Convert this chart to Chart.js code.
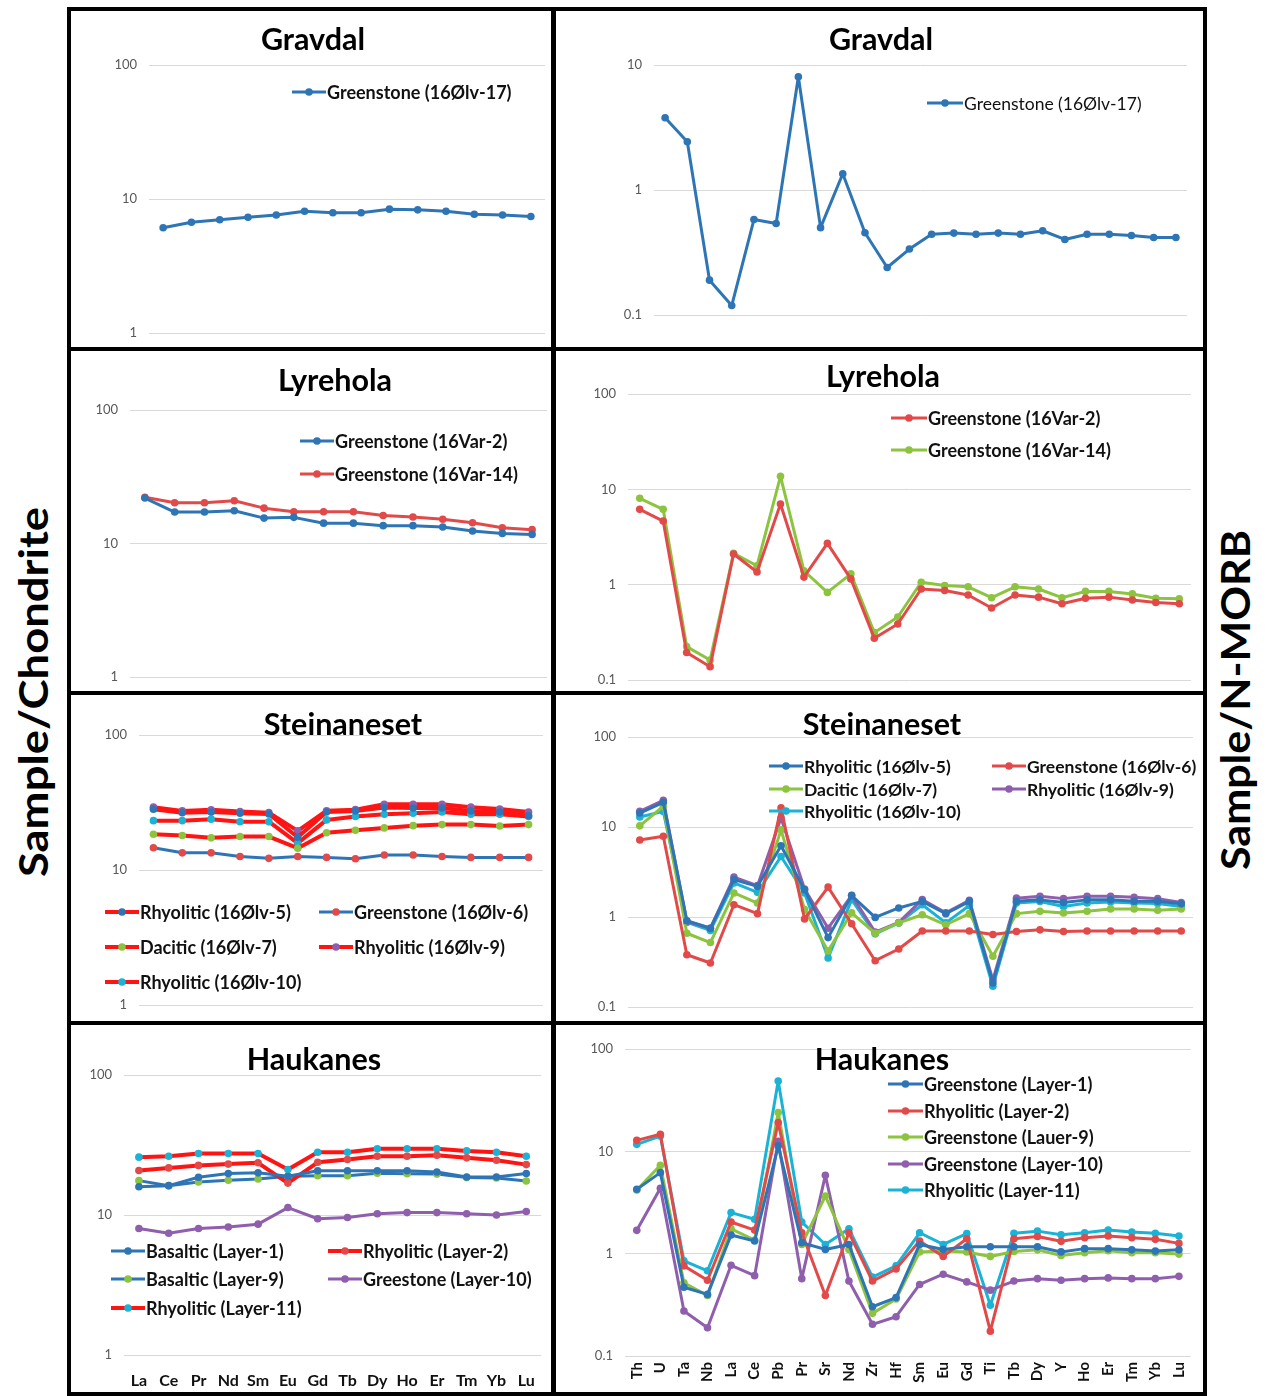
<!DOCTYPE html>
<html>
<head>
<meta charset="utf-8">
<title>REE and spider diagrams</title>
<script src="https://cdn.jsdelivr.net/npm/chart.js@4.4.1/dist/chart.umd.min.js"></script>
<style>
  html, body { margin: 0; padding: 0; background: #fff; }
  #page { position: relative; width: 1270px; height: 1396px; overflow: hidden; background: #fff; }
  .panel { position: absolute; }
  .panel canvas { display: block; }
  .rule { position: absolute; background: #000; }
  .side { position: absolute; font-family: Lato, "Open Sans", sans-serif; font-weight: 700; color: #000;
          white-space: nowrap; line-height: 1; }
</style>
</head>
<body>
<div id="page"></div>
<script>
// ---------- categories ----------
const REE = ['La','Ce','Pr','Nd','Sm','Eu','Gd','Tb','Dy','Ho','Er','Tm','Yb','Lu'];
const SPIDER = ['Th','U','Ta','Nb','La','Ce','Pb','Pr','Sr','Nd','Zr','Hf','Sm','Eu','Gd','Ti','Tb','Dy','Y','Ho','Er','Tm','Yb','Lu'];

// ---------- tick labels ----------
const CHONDRITE_TICKS = [1, 10, 100];
const MORB_TICKS_SHORT = [0.1, 1, 10];
const MORB_TICKS = [0.1, 1, 10, 100];

// ---------- titles / series names ----------
const TITLES = ['Gravdal', 'Lyrehola', 'Steinaneset', 'Haukanes'];
const SIDE_LEFT = 'Sample/Chondrite';
const SIDE_RIGHT = 'Sample/N-MORB';

// ---------- Gravdal ----------
const gravdalReeLabels = ['Greenstone (16Ølv-17)'];
const gravdalRee17 = [6.1, 6.7, 7.0, 7.3, 7.6, 8.1, 7.9, 7.9, 8.4, 8.3, 8.1, 7.7, 7.6, 7.4];
const gravdalSpiderLabels = ['Greenstone (16Ølv-17)'];
const gravdalSpider17 = [3.78, 2.43, 0.19, 0.119, 0.58, 0.54, 8.06, 0.50, 1.35, 0.455, 0.24, 0.337,
                         0.443, 0.452, 0.443, 0.452, 0.443, 0.472, 0.402, 0.443, 0.443, 0.432, 0.417, 0.417];

// ---------- Lyrehola ----------
const lyreholaLabels = ['Greenstone (16Var-2)', 'Greenstone (16Var-14)'];
const lyreholaRee2  = [21.9, 17.2, 17.2, 17.6, 15.5, 15.7, 14.2, 14.2, 13.6, 13.6, 13.3, 12.4, 11.9, 11.7];
const lyreholaRee14 = [22.2, 20.2, 20.2, 20.9, 18.4, 17.3, 17.3, 17.3, 16.2, 15.8, 15.2, 14.3, 13.1, 12.7];
const lyreholaSpider2  = [6.17, 4.65, 0.194, 0.138, 2.10, 1.36, 7.02, 1.20, 2.71, 1.15, 0.274, 0.387,
                          0.90, 0.87, 0.78, 0.57, 0.78, 0.74, 0.63, 0.72, 0.74, 0.69, 0.65, 0.63];
const lyreholaSpider14 = [8.05, 6.17, 0.224, 0.162, 2.13, 1.58, 13.7, 1.40, 0.83, 1.30, 0.314, 0.458,
                          1.06, 0.98, 0.95, 0.73, 0.95, 0.90, 0.73, 0.85, 0.85, 0.80, 0.72, 0.71];

// ---------- Steinaneset ----------
const steinLabels = ['Rhyolitic (16Ølv-5)', 'Greenstone (16Ølv-6)', 'Dacitic (16Ølv-7)',
                     'Rhyolitic (16Ølv-9)', 'Rhyolitic (16Ølv-10)'];
const steinRee5  = [28.2, 26.6, 26.9, 26.3, 26.0, 17.5, 26.9, 27.4, 29.0, 28.8, 28.8, 27.4, 26.9, 25.2];
const steinRee6  = [14.6, 13.4, 13.4, 12.6, 12.2, 12.6, 12.4, 12.1, 12.9, 12.9, 12.6, 12.4, 12.4, 12.4];
const steinRee7  = [18.4, 18.0, 17.3, 17.7, 17.7, 14.5, 18.9, 19.7, 20.5, 21.3, 21.7, 21.7, 21.2, 21.7];
const steinRee9  = [29.2, 27.4, 27.9, 27.1, 26.6, 19.5, 27.5, 28.0, 30.7, 30.7, 30.7, 29.2, 28.3, 26.9];
const steinRee10 = [23.2, 23.2, 23.8, 22.8, 22.8, 15.8, 23.5, 24.9, 25.9, 26.3, 26.9, 25.9, 25.9, 24.9];
const steinSpider5  = [14.3, 18.8, 0.91, 0.75, 2.60, 2.19, 6.2, 2.01, 0.59, 1.73, 0.99, 1.26,
                       1.49, 1.09, 1.49, 0.185, 1.50, 1.55, 1.45, 1.55, 1.55, 1.50, 1.50, 1.40];
const steinSpider6  = [7.17, 7.88, 0.381, 0.308, 1.37, 1.09, 16.3, 0.95, 2.15, 0.84, 0.327, 0.441,
                       0.70, 0.70, 0.70, 0.64, 0.69, 0.72, 0.69, 0.70, 0.70, 0.70, 0.70, 0.70];
const steinSpider7  = [10.3, 17.0, 0.66, 0.52, 1.85, 1.43, 9.3, 1.21, 0.42, 1.11, 0.66, 0.86,
                       1.06, 0.82, 1.09, 0.366, 1.09, 1.16, 1.11, 1.16, 1.23, 1.23, 1.19, 1.23];
const steinSpider9  = [14.9, 19.8, 0.89, 0.75, 2.78, 2.23, 12.6, 2.05, 0.75, 1.74, 0.68, 0.87,
                       1.56, 1.11, 1.53, 0.20, 1.62, 1.70, 1.60, 1.70, 1.70, 1.66, 1.60, 1.45];
const steinSpider10 = [12.9, 14.9, 0.87, 0.71, 2.39, 1.88, 4.7, 1.85, 0.35, 1.56, 0.65, 0.86,
                       1.37, 0.86, 1.34, 0.17, 1.43, 1.49, 1.31, 1.43, 1.47, 1.43, 1.41, 1.31];

// ---------- Haukanes ----------
const haukReeLabels = ['Basaltic (Layer-1)', 'Rhyolitic (Layer-2)', 'Basaltic (Layer-9)',
                       'Greestone (Layer-10)', 'Rhyolitic (Layer-11)'];
const haukRee1  = [15.9, 16.2, 18.6, 19.8, 20.0, 18.9, 20.7, 20.7, 20.7, 20.7, 20.3, 18.7, 18.7, 19.8];
const haukRee2  = [20.8, 21.7, 22.6, 23.1, 23.6, 16.9, 23.8, 24.9, 26.3, 26.3, 26.7, 25.6, 24.6, 22.9];
const haukRee9  = [17.6, 16.2, 17.2, 17.7, 18.1, 18.9, 19.1, 19.1, 19.9, 19.7, 19.6, 18.5, 18.4, 17.5];
const haukRee10 = [8.0, 7.4, 8.0, 8.2, 8.6, 11.3, 9.4, 9.6, 10.2, 10.4, 10.4, 10.2, 10.0, 10.6];
const haukRee11 = [25.9, 26.3, 27.5, 27.5, 27.5, 21.1, 28.1, 28.1, 29.7, 29.7, 29.7, 28.7, 28.1, 26.3];
const haukSpiderLabels = ['Greenstone (Layer-1)', 'Rhyolitic (Layer-2)', 'Greenstone (Lauer-9)',
                          'Greenstone (Layer-10)', 'Rhyolitic (Layer-11)'];
const haukSpider1  = [4.25, 6.19, 0.47, 0.40, 1.52, 1.33, 11.3, 1.28, 1.10, 1.23, 0.303, 0.372,
                      1.23, 1.10, 1.17, 1.17, 1.17, 1.17, 1.04, 1.12, 1.12, 1.09, 1.06, 1.09];
const haukSpider2  = [12.8, 14.7, 0.76, 0.55, 2.04, 1.70, 19.1, 1.60, 0.39, 1.60, 0.54, 0.71,
                      1.33, 0.94, 1.40, 0.175, 1.40, 1.47, 1.32, 1.43, 1.49, 1.43, 1.38, 1.26];
const haukSpider9  = [4.19, 7.3, 0.52, 0.39, 1.75, 1.36, 24.0, 1.23, 3.66, 1.10, 0.261, 0.36,
                      1.04, 1.06, 1.04, 0.94, 1.05, 1.09, 0.96, 1.02, 1.07, 1.02, 1.02, 0.99];
const haukSpider10 = [1.69, 4.35, 0.275, 0.189, 0.77, 0.61, 12.5, 0.57, 5.83, 0.54, 0.204, 0.242,
                      0.50, 0.63, 0.53, 0.44, 0.54, 0.57, 0.55, 0.57, 0.58, 0.57, 0.57, 0.60];
const haukSpider11 = [11.7, 14.1, 0.85, 0.68, 2.52, 2.17, 48.7, 2.04, 1.23, 1.75, 0.59, 0.76,
                      1.60, 1.23, 1.57, 0.313, 1.58, 1.66, 1.53, 1.60, 1.70, 1.63, 1.58, 1.49];

// ---------- styling ----------
const FONT = 'Lato, "Open Sans", sans-serif';
const BLUE = '#2e75b6', RED = '#e24a4a', GREEN = '#8cc43f', PURPLE = '#8f5fae', CYAN = '#1ab3d6';
const HOT_RED = '#ff1414';
const GRID = '#d9d9d9';

function ser(label, data, line, dot, width) {
  return { label, data, line, dot, width: width || 3 };
}

// Panel layout: inner box of each framed cell and the plotting rectangle inside it (page pixels).
const panels = [
  { box: [71, 11, 480, 336], area: [149, 65, 545, 333], labels: REE, ticks: CHONDRITE_TICKS,
    title: [TITLES[0], 313, 40],
    series: [ser(gravdalReeLabels[0], gravdalRee17, BLUE, BLUE)],
    legend: { size: 18, weight: 700, len: 34, items: [[0, 292, 92]] } },
  { box: [556, 11, 647, 336], area: [654, 65, 1187, 315], labels: SPIDER, ticks: MORB_TICKS_SHORT,
    title: [TITLES[0], 881, 40],
    series: [ser(gravdalSpiderLabels[0], gravdalSpider17, BLUE, BLUE)],
    legend: { size: 17.5, weight: 400, len: 36, items: [[0, 927, 103]] } },
  { box: [71, 351, 480, 340], area: [130, 410, 551, 677], labels: REE, ticks: CHONDRITE_TICKS,
    title: [TITLES[1], 335, 381],
    series: [ser(lyreholaLabels[0], lyreholaRee2, BLUE, BLUE), ser(lyreholaLabels[1], lyreholaRee14, RED, RED)],
    legend: { size: 18, weight: 700, len: 34, items: [[0, 300, 441], [1, 300, 474]] } },
  { box: [556, 351, 647, 340], area: [628, 394, 1191, 680], labels: SPIDER, ticks: MORB_TICKS,
    title: [TITLES[1], 883, 377],
    series: [ser(lyreholaLabels[0], lyreholaSpider2, RED, RED), ser(lyreholaLabels[1], lyreholaSpider14, GREEN, GREEN)],
    legend: { size: 18, weight: 700, len: 36, items: [[0, 891, 418], [1, 891, 450]] } },
  { box: [71, 695, 480, 326], area: [139, 735, 543, 1005], labels: REE, ticks: CHONDRITE_TICKS,
    title: [TITLES[2], 343, 725],
    series: [ser(steinLabels[0], steinRee5, HOT_RED, BLUE, 4), ser(steinLabels[1], steinRee6, BLUE, RED, 3),
             ser(steinLabels[2], steinRee7, HOT_RED, GREEN, 4), ser(steinLabels[3], steinRee9, HOT_RED, PURPLE, 4),
             ser(steinLabels[4], steinRee10, HOT_RED, CYAN, 4)],
    legend: { size: 18, weight: 700, len: 34,
              items: [[0, 105, 912], [1, 319, 912], [2, 105, 947], [3, 319, 947], [4, 105, 982]] } },
  { box: [556, 695, 647, 326], area: [628, 737, 1193, 1007], labels: SPIDER, ticks: MORB_TICKS,
    title: [TITLES[2], 882, 725],
    series: [ser(steinLabels[0], steinSpider5, BLUE, BLUE), ser(steinLabels[1], steinSpider6, RED, RED),
             ser(steinLabels[2], steinSpider7, GREEN, GREEN), ser(steinLabels[3], steinSpider9, PURPLE, PURPLE),
             ser(steinLabels[4], steinSpider10, CYAN, CYAN)],
    legend: { size: 17.5, weight: 700, len: 34,
              items: [[0, 769, 766], [1, 992, 766], [2, 769, 789], [3, 992, 789], [4, 769, 811]] } },
  { box: [71, 1025, 480, 367], area: [124, 1075, 545, 1355], labels: REE, ticks: CHONDRITE_TICKS,
    title: [TITLES[3], 314, 1060], xAxis: { rotate: false, size: 16, pad: 16 },
    series: [ser(haukReeLabels[0], haukRee1, BLUE, BLUE), ser(haukReeLabels[1], haukRee2, HOT_RED, RED, 4),
             ser(haukReeLabels[2], haukRee9, BLUE, GREEN), ser(haukReeLabels[3], haukRee10, PURPLE, PURPLE),
             ser(haukReeLabels[4], haukRee11, HOT_RED, CYAN, 4)],
    legend: { size: 18, weight: 700, len: 34,
              items: [[0, 111, 1251], [1, 328, 1251], [2, 111, 1279], [3, 328, 1279], [4, 111, 1308]] } },
  { box: [556, 1025, 647, 367], area: [625, 1049, 1199, 1356], labels: SPIDER, ticks: MORB_TICKS,
    title: [TITLES[3], 882, 1060], xAxis: { rotate: true, size: 15, pad: 6 },
    series: [ser(haukSpiderLabels[0], haukSpider1, BLUE, BLUE), ser(haukSpiderLabels[1], haukSpider2, RED, RED),
             ser(haukSpiderLabels[2], haukSpider9, GREEN, GREEN), ser(haukSpiderLabels[3], haukSpider10, PURPLE, PURPLE),
             ser(haukSpiderLabels[4], haukSpider11, CYAN, CYAN)],
    legend: { size: 18, weight: 700, len: 35,
              items: [[0, 888, 1084], [1, 888, 1111], [2, 888, 1137], [3, 888, 1164], [4, 888, 1190]] } }
];

// Draws each panel's heading and its in-plot legend on top of the series.
const panelDecor = {
  id: 'panelDecor',
  afterDraw(chart, args, opts) {
    const ctx = chart.ctx;
    const [ox, oy] = opts.origin;
    ctx.save();
    if (opts.title) {
      ctx.font = `700 30.5px ${FONT}`;
      ctx.fillStyle = '#000';
      ctx.textAlign = 'center';
      ctx.textBaseline = 'middle';
      ctx.fillText(opts.title[0], opts.title[1] - ox, opts.title[2] - oy);
    }
    const lg = opts.legend;
    if (lg) {
      lg.items.forEach(([idx, lx, ly]) => {
        const ds = chart.data.datasets[idx];
        const x = lx - ox, y = ly - oy;
        ctx.strokeStyle = ds.borderColor;
        ctx.lineWidth = ds.borderWidth;
        ctx.beginPath();
        ctx.moveTo(x, y);
        ctx.lineTo(x + lg.len, y);
        ctx.stroke();
        ctx.fillStyle = ds.pointBackgroundColor;
        ctx.beginPath();
        ctx.arc(x + lg.len / 2, y, 3.8, 0, Math.PI * 2);
        ctx.fill();
        ctx.font = `${lg.weight} ${lg.size}px ${FONT}`;
        ctx.fillStyle = '#111';
        ctx.textAlign = 'left';
        ctx.textBaseline = 'middle';
        ctx.fillText(ds.label, x + lg.len + 1, y + 1);
      });
    }
    ctx.restore();
  }
};

const page = document.getElementById('page');
const Y_W = 50;
const FOOT = 30;   // blank strip under plots that have no category labels

panels.forEach(p => {
  const [bx, by, bw, bh] = p.box;
  const [al, at, ar, ab] = p.area;
  const hasX = !!p.xAxis;
  const xHeight = by + bh - ab;
  const ch = hasX ? bh : (ab - by + FOOT);

  const holder = document.createElement('div');
  holder.className = 'panel';
  Object.assign(holder.style, { left: bx + 'px', top: by + 'px', width: bw + 'px', height: ch + 'px' });
  const cv = document.createElement('canvas');
  cv.width = bw; cv.height = ch;
  cv.style.width = bw + 'px'; cv.style.height = ch + 'px';
  holder.appendChild(cv);
  page.appendChild(holder);

  const xScale = {
    type: 'category', offset: true, display: hasX,
    grid: { display: false, drawTicks: false }, border: { display: false }
  };
  if (hasX) {
    xScale.ticks = {
      autoSkip: false, padding: p.xAxis.pad,
      minRotation: p.xAxis.rotate ? 90 : 0, maxRotation: p.xAxis.rotate ? 90 : 0,
      color: '#111', font: { family: FONT, size: p.xAxis.size, weight: '700' }
    };
    xScale.afterFit = s => { s.height = xHeight; };
  }

  new Chart(cv, {
    type: 'line',
    data: {
      labels: p.labels,
      datasets: p.series.map(s => ({
        label: s.label, data: s.data,
        borderColor: s.line, backgroundColor: s.dot,
        pointBackgroundColor: s.dot, pointBorderColor: s.dot,
        borderWidth: s.width, pointRadius: 3.8, pointBorderWidth: 0,
        borderJoinStyle: 'round', borderCapStyle: 'round',
        tension: 0, fill: false
      }))
    },
    options: {
      responsive: false, animation: false, devicePixelRatio: 1,
      layout: { padding: { left: al - bx - Y_W, top: at - by, right: bx + bw - ar, bottom: hasX ? 0 : FOOT } },
      plugins: {
        legend: { display: false }, tooltip: { enabled: false },
        panelDecor: { origin: [bx, by], title: p.title, legend: p.legend }
      },
      scales: {
        x: xScale,
        y: {
          type: 'logarithmic',
          min: p.ticks[0], max: p.ticks[p.ticks.length - 1],
          afterBuildTicks: s => { s.ticks = p.ticks.map(v => ({ value: v })); },
          afterFit: s => { s.width = Y_W; },
          grid: { color: GRID, lineWidth: 1, drawTicks: false },
          border: { display: false },
          ticks: {
            padding: 12, color: '#595959', font: { family: FONT, size: 13 },
            callback: v => String(v)
          }
        }
      }
    },
    plugins: [panelDecor]
  });
});

// Frame around the grid of panels.
[
  [67, 7, 1140, 4], [67, 1392, 1140, 4],
  [67, 7, 4, 1389], [1203, 7, 4, 1389], [551, 7, 5, 1389],
  [67, 347, 1140, 4], [67, 691, 1140, 4], [67, 1021, 1140, 4]
].forEach(([x, y, w, h]) => {
  const d = document.createElement('div');
  d.className = 'rule';
  Object.assign(d.style, { left: x + 'px', top: y + 'px', width: w + 'px', height: h + 'px' });
  page.appendChild(d);
});

// Rotated side captions for the two normalisation schemes.
function sideLabel(text, cx, cy, length) {
  const d = document.createElement('div');
  d.className = 'side';
  d.textContent = text;
  d.style.fontSize = '40px';
  page.appendChild(d);
  const w = d.offsetWidth, h = d.offsetHeight;
  const k = length / w;
  d.style.left = (cx - w / 2) + 'px';
  d.style.top = (cy - h / 2) + 'px';
  d.style.transform = `rotate(-90deg) scaleX(${k.toFixed(3)})`;
}
sideLabel(SIDE_LEFT, 33, 692, 370);
sideLabel(SIDE_RIGHT, 1235, 700, 340);
</script>
</body>
</html>
